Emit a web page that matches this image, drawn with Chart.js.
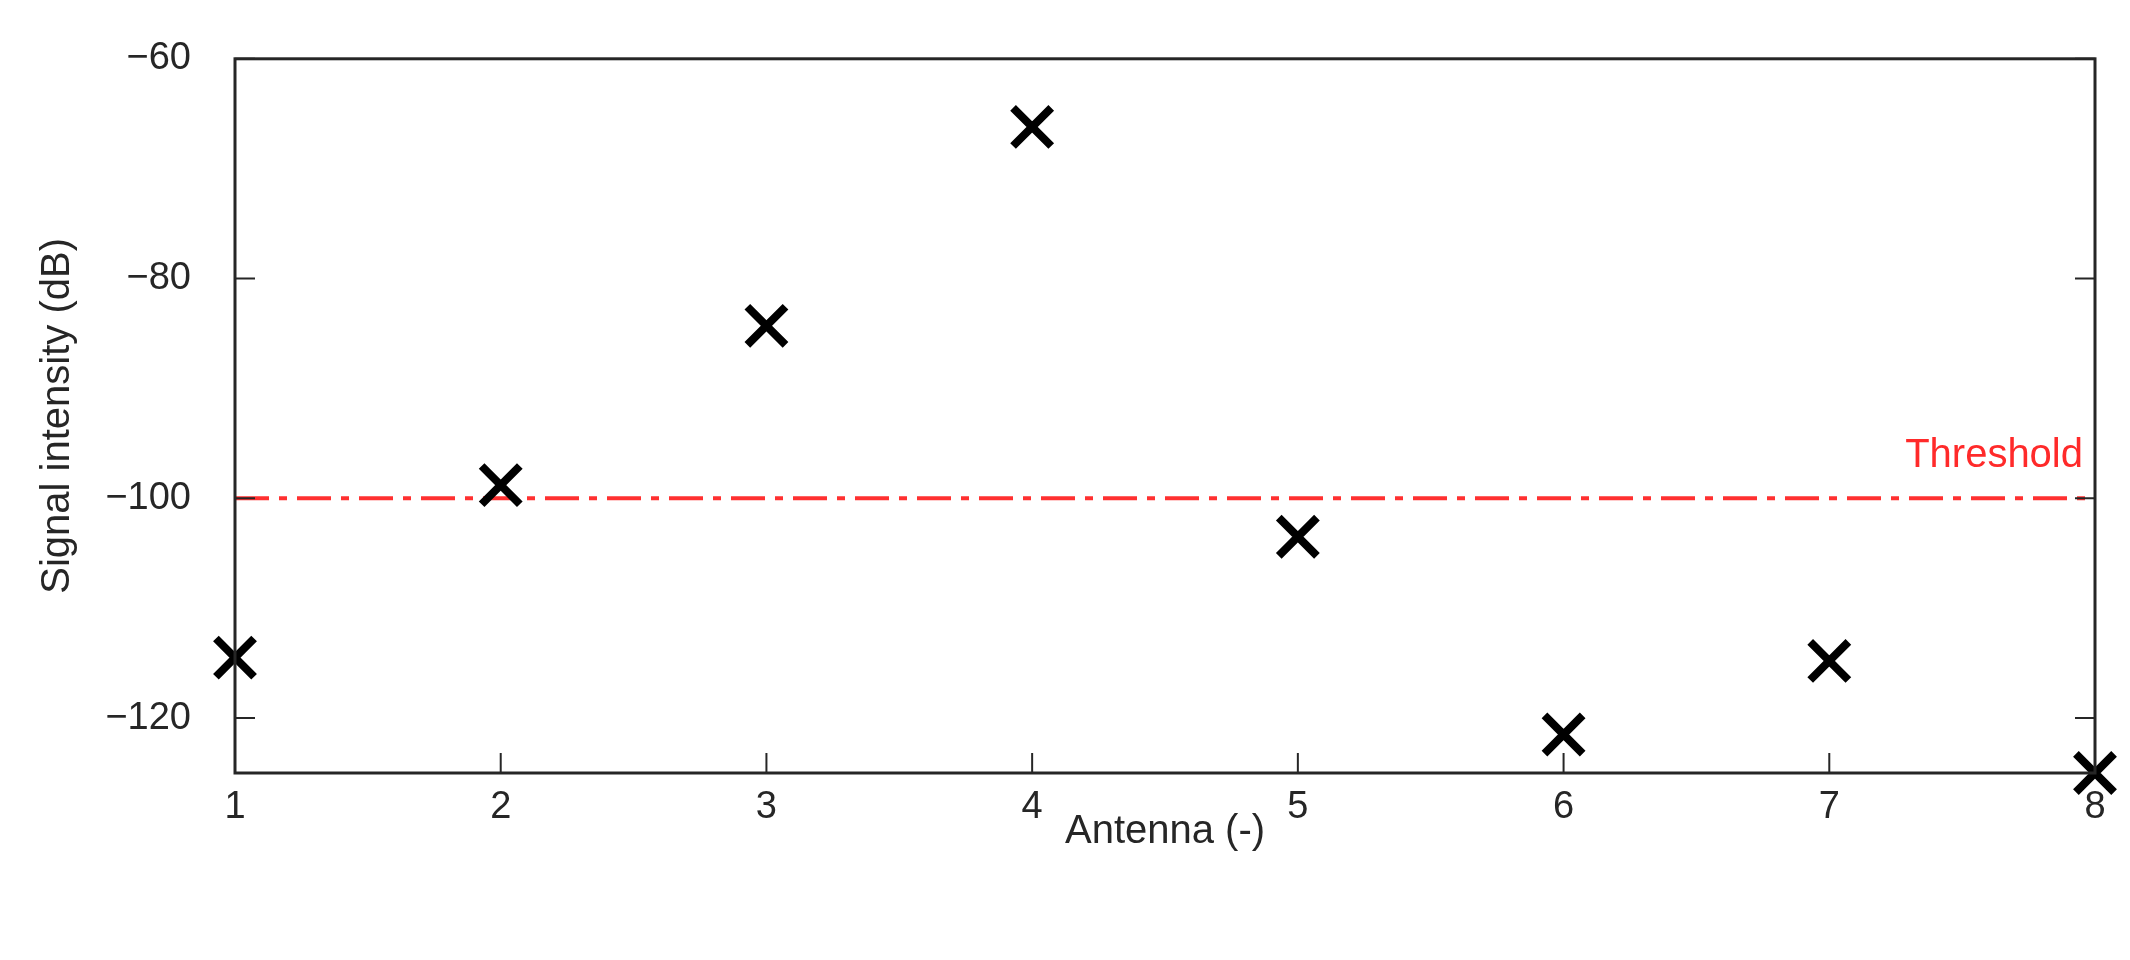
<!DOCTYPE html>
<html>
<head>
<meta charset="utf-8">
<script src="https://cdn.jsdelivr.net/npm/chart.js@4"></script>
<style>
  body { margin: 0; background: #fff; }
  #wrap { width: 2130px; height: 960px; }
</style>
</head>
<body>
<div id="wrap"><canvas id="c"></canvas></div>
<script>
// antenna index and measured intensity
const antennas = [1, 2, 3, 4, 5, 6, 7, 8];
const intensity = [-114.5, -98.8, -84.3, -66.2, -103.5, -121.5, -114.8, -125];
const yTicks = [-120, -100, -80, -60];
const threshold = -100;

// box + inward ticks + threshold label
const frame = {
  id: 'frame',
  afterDatasetsDraw(chart) {
    const { ctx, chartArea: a, scales: { x, y } } = chart;
    ctx.save();
    ctx.strokeStyle = '#262626';
    ctx.lineWidth = 3;
    ctx.strokeRect(a.left, a.top, a.right - a.left, a.bottom - a.top);
    ctx.lineWidth = 2;
    antennas.forEach(v => {
      const px = x.getPixelForValue(v);
      ctx.beginPath(); ctx.moveTo(px, a.bottom); ctx.lineTo(px, a.bottom - 20); ctx.stroke();
    });
    yTicks.forEach(v => {
      const py = y.getPixelForValue(v);
      ctx.beginPath(); ctx.moveTo(a.left, py); ctx.lineTo(a.left + 20, py);
      ctx.moveTo(a.right, py); ctx.lineTo(a.right - 20, py); ctx.stroke();
    });
    ctx.fillStyle = '#ff2a2a';
    ctx.font = '40px "Liberation Sans", Arial, sans-serif';
    ctx.textAlign = 'right';
    ctx.textBaseline = 'bottom';
    ctx.fillText('Threshold', a.right - 12, y.getPixelForValue(threshold) - 22);
    ctx.restore();
  }
};

new Chart(document.getElementById('c'), {
  type: 'scatter',
  data: {
    datasets: [
      {
        type: 'line',
        data: [{ x: 1, y: threshold }, { x: 8, y: threshold }],
        borderColor: '#ff3030',
        borderWidth: 4,
        borderDash: [34, 10, 8, 10],
        pointRadius: 0,
        order: 2
      },
      {
        data: antennas.map((a, i) => ({ x: a, y: intensity[i] })),
        pointStyle: 'crossRot',
        pointRadius: 27,
        borderColor: '#000',
        backgroundColor: '#000',
        pointBorderWidth: 8,
        clip: false,
        order: 1
      }
    ]
  },
  options: {
    responsive: true,
    maintainAspectRatio: false,
    animation: false,
    layout: { padding: { top: 38, right: 35, left: 30, bottom: 100 } },
    plugins: { legend: { display: false }, tooltip: { enabled: false } },
    scales: {
      x: {
        type: 'linear', min: 1, max: 8,
        grid: { display: false }, border: { display: false },
        ticks: { stepSize: 1, color: '#262626', padding: 4, font: { size: 38, family: 'Liberation Sans' } },
        title: { display: true, text: 'Antenna (-)', color: '#262626', font: { size: 40, family: 'Liberation Sans' }, padding: { top: 0 } },
        afterFit(s) { s.height = 87; }
      },
      y: {
        type: 'linear', min: -125, max: -60,
        afterBuildTicks(s) { s.ticks = yTicks.map(v => ({ value: v })); },
        grid: { display: false }, border: { display: false },
        ticks: { color: '#262626', padding: 36, font: { size: 38, family: 'Liberation Sans' },
          callback: v => String(v).replace('-', '\u2212') },
        title: { display: true, text: 'Signal intensity (dB)', color: '#262626', font: { size: 40, family: 'Liberation Sans' } },
        afterFit(s) { s.width = 205; }
      }
    }
  },
  plugins: [frame]
});
</script>
</body>
</html>
